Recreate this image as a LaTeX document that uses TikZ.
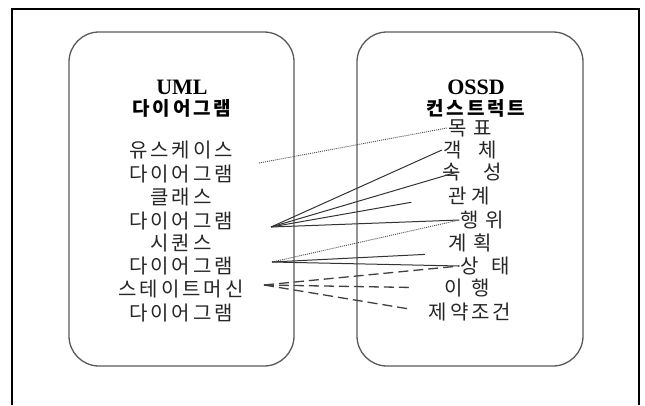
\documentclass[tikz,border=0pt]{standalone}
\usepackage{fontspec}
\setmainfont{Liberation Serif}
\newfontfamily\kr[LetterSpace=15]{Noto Sans CJK KR}

\begin{document}
\begin{tikzpicture}[x=1pt, y=-1pt,
		item/.style={inner sep=1pt, font=\kr\fontsize{20}{22}\selectfont, text=black!85},
		head/.style={inner sep=1pt, font=\bfseries\fontsize{22}{24}\selectfont},
		headkr/.style={inner sep=1pt, font=\kr\bfseries\fontsize{19}{21}\selectfont},
		panel/.style={draw=black!65, line width=1.3pt, rounded corners=30pt},
		link/.style={draw=black!80, line width=1pt},
		dotlink/.style={draw=black!70, line width=0.9pt, dash pattern=on 1pt off 1pt},
		dashlink/.style={draw=black!75, line width=1.3pt, dash pattern=on 10pt off 5pt}]
	\useasboundingbox (0,0) rectangle (645,405);
	% frame
	\draw[line width=2.5pt] (12,405) -- (12,9) -- (639,9) -- (639,405);
	\draw[panel] (69,32) rectangle (294,366);
	\draw[panel] (357,32) rectangle (583,366);

	% UML side
	\node[head] (uml) at (182, 87) {UML};
	\node[headkr] (umlkr) at (182, 108) {다이어그램};
	\node[item] (uc1) at (181, 150) {유스케이스};
	\node[item] (uc2) at (181, 174) {다이어그램};
	\node[item] (cls1) at (181, 197) {클래스};
	\node[item] (cls2) at (181, 221) {다이어그램};
	\node[item] (seq1) at (181, 243) {시퀀스};
	\node[item] (seq2) at (181, 266) {다이어그램};
	\node[item] (sm1) at (181, 289) {스테이트머신};
	\node[item] (sm2) at (181, 313) {다이어그램};

	% OSSD side
	\node[head] (ossd) at (476, 87) {OSSD};
	\node[headkr] (ossdkr) at (476, 108) {컨스트럭트};
	\node[item] (goal) at (470, 128) {목\hspace{7pt}표};
	\node[item] (obj) at (470, 150) {객\hspace{17pt}체};
	\node[item] (attr) at (472, 172) {속\hspace{22pt}성};
	\node[item] (rel) at (469, 196) {관\hspace{5pt}계};
	\node[item] (act) at (482, 220) {행\hspace{6pt}위};
	\node[item] (plan) at (470, 243) {계\hspace{7pt}획};
	\node[item] (state) at (485, 266) {상\hspace{12pt}태};
	\node[item] (trans) at (467, 288) {이\hspace{8pt}행};
	\node[item] (cons) at (470, 312) {제약조건};

	\coordinate (ucP) at (259, 163);
	\coordinate (clsP) at (271, 227);
	\coordinate (seqP) at (272, 262);
	\coordinate (smP) at (264, 285);

	\draw[dotlink] (ucP) -- (goal.west);
	\draw[link] (clsP) -- (obj.west);
	\draw[link] (clsP) -- ([xshift=16pt]attr.west);
	\draw[link, shorten >=36pt] (clsP) -- (rel.west);
	\draw[link] (clsP) -- (act.west);
	\draw[dotlink] (seqP) -- (act.west);
	\draw[link, shorten >=22pt] (seqP) -- (plan.south west);
	\draw[link] (seqP) -- (state.west);
	\draw[dashlink] (smP) -- (state.west);
	\draw[dashlink, shorten >=33pt] (smP) -- (trans.west);
	\draw[dashlink, shorten >=16pt] (smP) -- (cons.west);
\end{tikzpicture}
\end{document}
